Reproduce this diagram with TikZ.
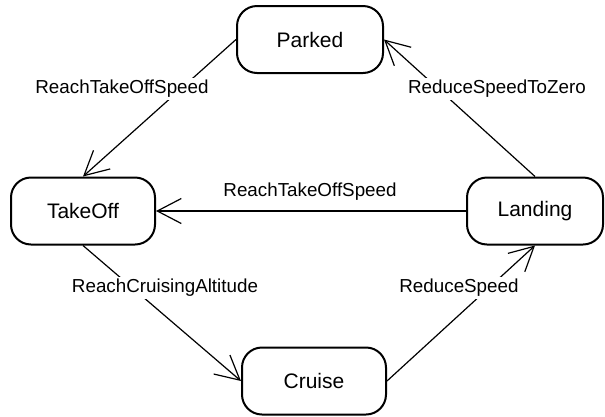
\documentclass[tikz,border=0pt]{standalone}
\usepackage{fontspec}
\setmainfont{Liberation Sans}
\usetikzlibrary{arrows.meta}
\begin{document}
\begin{tikzpicture}[x=1pt,y=-1pt,
  state/.style={draw, line width=2pt, rounded corners=20pt, minimum height=67pt,
    inner sep=0pt, font=\fontsize{21}{25}\selectfont},
  lbl/.style={fill=white, inner sep=2pt, text height=13.5pt, text depth=4pt,
    font=\fontsize{18.8}{22}\selectfont},
  conn/.style={line width=1.2pt, -{Straight Barb[length=24pt,width=25pt,line width=1.2pt]}}]
\useasboundingbox (0,0) rectangle (605,416);
\node[state, minimum width=146pt] (parked) at (310,39.5) {Parked};
\node[state, minimum width=144pt] (takeoff) at (83,211) {TakeOff};
\node[state, minimum width=136pt] (landing) at (535,211) {Landing};
\node[state, minimum width=144pt] (cruise) at (314,381) {Cruise};
\draw[conn] (parked.west) -- (takeoff.north);
\draw[conn] (landing.north) -- (parked.east);
\draw[conn] (landing.west) -- (takeoff.east);
\draw[conn] (takeoff.south) -- (cruise.west);
\draw[conn] (cruise.east) -- (landing.south);
\node[lbl] (l1) at (122,89) {ReachTakeOffSpeed};
\node[lbl] (l2) at (497,89) {ReduceSpeedToZero};
\node[lbl] (l3) at (310,192) {ReachTakeOffSpeed};
\node[lbl] (l4) at (165,288) {ReachCruisingAltitude};
\node[lbl] (l5) at (459,288) {ReduceSpeed};
\end{tikzpicture}
\end{document}
